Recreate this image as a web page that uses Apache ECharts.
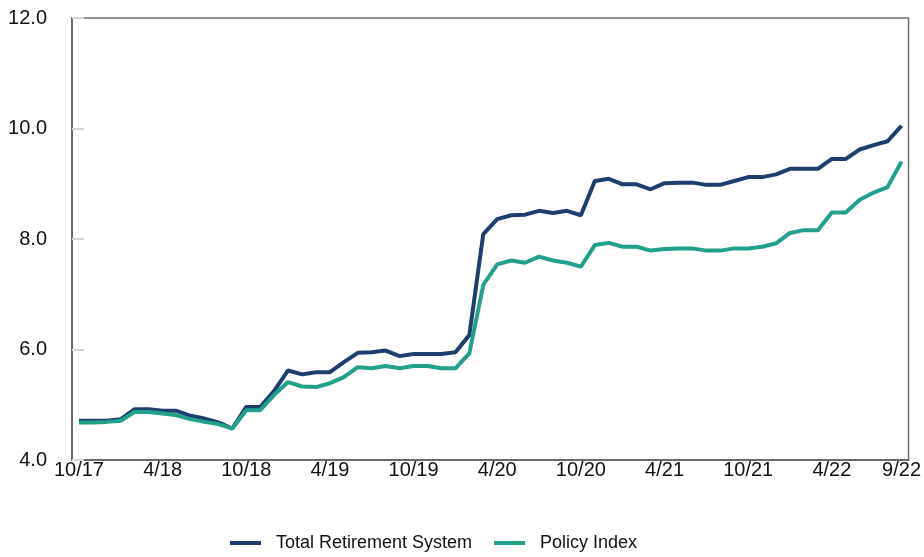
<!DOCTYPE html>
<html>
<head>
<meta charset="utf-8">
<script src="https://cdn.jsdelivr.net/npm/echarts@6/dist/echarts.min.js"></script>
<style>
  html, body { margin: 0; padding: 0; background: #fff; }
  #chart { width: 924px; height: 557px; }
</style>
</head>
<body>
<div id="chart"></div>
<script>
// months 10/17 .. 9/22
const months = [
  "10/17", "11/17", "12/17", "1/18", "2/18", "3/18", "4/18", "5/18", "6/18", "7/18", "8/18", "9/18",
  "10/18", "11/18", "12/18", "1/19", "2/19", "3/19", "4/19", "5/19", "6/19", "7/19", "8/19", "9/19",
  "10/19", "11/19", "12/19", "1/20", "2/20", "3/20", "4/20", "5/20", "6/20", "7/20", "8/20", "9/20",
  "10/20", "11/20", "12/20", "1/21", "2/21", "3/21", "4/21", "5/21", "6/21", "7/21", "8/21", "9/21",
  "10/21", "11/21", "12/21", "1/22", "2/22", "3/22", "4/22", "5/22", "6/22", "7/22", "8/22", "9/22"
];
// months that get a label and a tick
const labelMonths = ["10/17", "4/18", "10/18", "4/19", "10/19", "4/20", "10/20", "4/21", "10/21", "4/22", "9/22"];

const totalRetirement = [
  4.71, 4.71, 4.71, 4.74, 4.92, 4.92, 4.89, 4.89, 4.80, 4.75, 4.68, 4.57,
  4.96, 4.96, 5.25, 5.62, 5.55, 5.59, 5.59, 5.77, 5.94, 5.95, 5.98, 5.88,
  5.92, 5.92, 5.92, 5.95, 6.26, 8.09, 8.36, 8.43, 8.44, 8.51, 8.47, 8.51,
  8.43, 9.05, 9.09, 8.99, 8.99, 8.90, 9.01, 9.02, 9.02, 8.98, 8.98, 9.05,
  9.12, 9.12, 9.17, 9.27, 9.27, 9.27, 9.45, 9.45, 9.62, 9.70, 9.77, 10.05
];
const policyIndex = [
  4.68, 4.68, 4.69, 4.71, 4.87, 4.87, 4.84, 4.81, 4.74, 4.69, 4.65, 4.57,
  4.90, 4.90, 5.18, 5.41, 5.33, 5.32, 5.39, 5.50, 5.68, 5.66, 5.70, 5.66,
  5.70, 5.70, 5.66, 5.66, 5.93, 7.17, 7.54, 7.61, 7.57, 7.68, 7.61, 7.57,
  7.50, 7.89, 7.93, 7.86, 7.86, 7.79, 7.82, 7.83, 7.83, 7.79, 7.79, 7.83,
  7.83, 7.86, 7.92, 8.11, 8.16, 8.16, 8.48, 8.48, 8.71, 8.84, 8.94, 9.40
];

const font = "'Liberation Sans', Arial, sans-serif";
const showMonth = (i, v) => labelMonths.indexOf(months[i]) >= 0;

const chart = echarts.init(document.getElementById("chart"));
chart.setOption({
  animation: false,
  grid: {
    left: 72, right: 14, top: 18, bottom: 97,
    show: true, borderColor: "#707070", borderWidth: 1.5
  },
  legend: {
    left: 225, top: 529,
    icon: "rect", itemWidth: 31, itemHeight: 4, itemGap: 22,
    textStyle: { fontFamily: font, fontSize: 18, color: "#111", padding: [0, 0, 0, 10] },
    data: ["Total Retirement System", "Policy Index"]
  },
  xAxis: [
    {
      type: "category",
      data: months,
      boundaryGap: true,
      axisLine: { lineStyle: { color: "#6a6a6a", width: 2 } },
      axisTick: { alignWithLabel: true, interval: showMonth, length: 12, lineStyle: { color: "#d4d4d4", width: 2 } },
      axisLabel: { interval: showMonth, margin: 0, fontFamily: font, fontSize: 20, color: "#111" }
    },
    {
      // second copy only for the ticks that point up into the plot
      type: "category",
      data: months,
      position: "bottom",
      boundaryGap: true,
      axisLine: { show: false },
      axisTick: { inside: true, alignWithLabel: true, interval: showMonth, length: 12, lineStyle: { color: "#d4d4d4", width: 2 } },
      axisLabel: { show: false }
    }
  ],
  yAxis: {
    type: "value",
    min: 4, max: 12, interval: 2,
    splitLine: { show: false },
    axisLine: { show: true, lineStyle: { color: "#6a6a6a", width: 2 } },
    axisTick: { show: true, inside: true, length: 12, lineStyle: { color: "#d4d4d4", width: 2 } },
    axisLabel: { margin: 25, fontFamily: font, fontSize: 20, color: "#111", formatter: v => v.toFixed(1) }
  },
  series: [
    {
      name: "Total Retirement System",
      type: "line",
      data: totalRetirement,
      showSymbol: false,
      color: "#1d3f6e",
      lineStyle: { width: 4 }
    },
    {
      name: "Policy Index",
      type: "line",
      data: policyIndex,
      showSymbol: false,
      color: "#21a08b",
      lineStyle: { width: 4 }
    }
  ]
});
</script>
</body>
</html>
